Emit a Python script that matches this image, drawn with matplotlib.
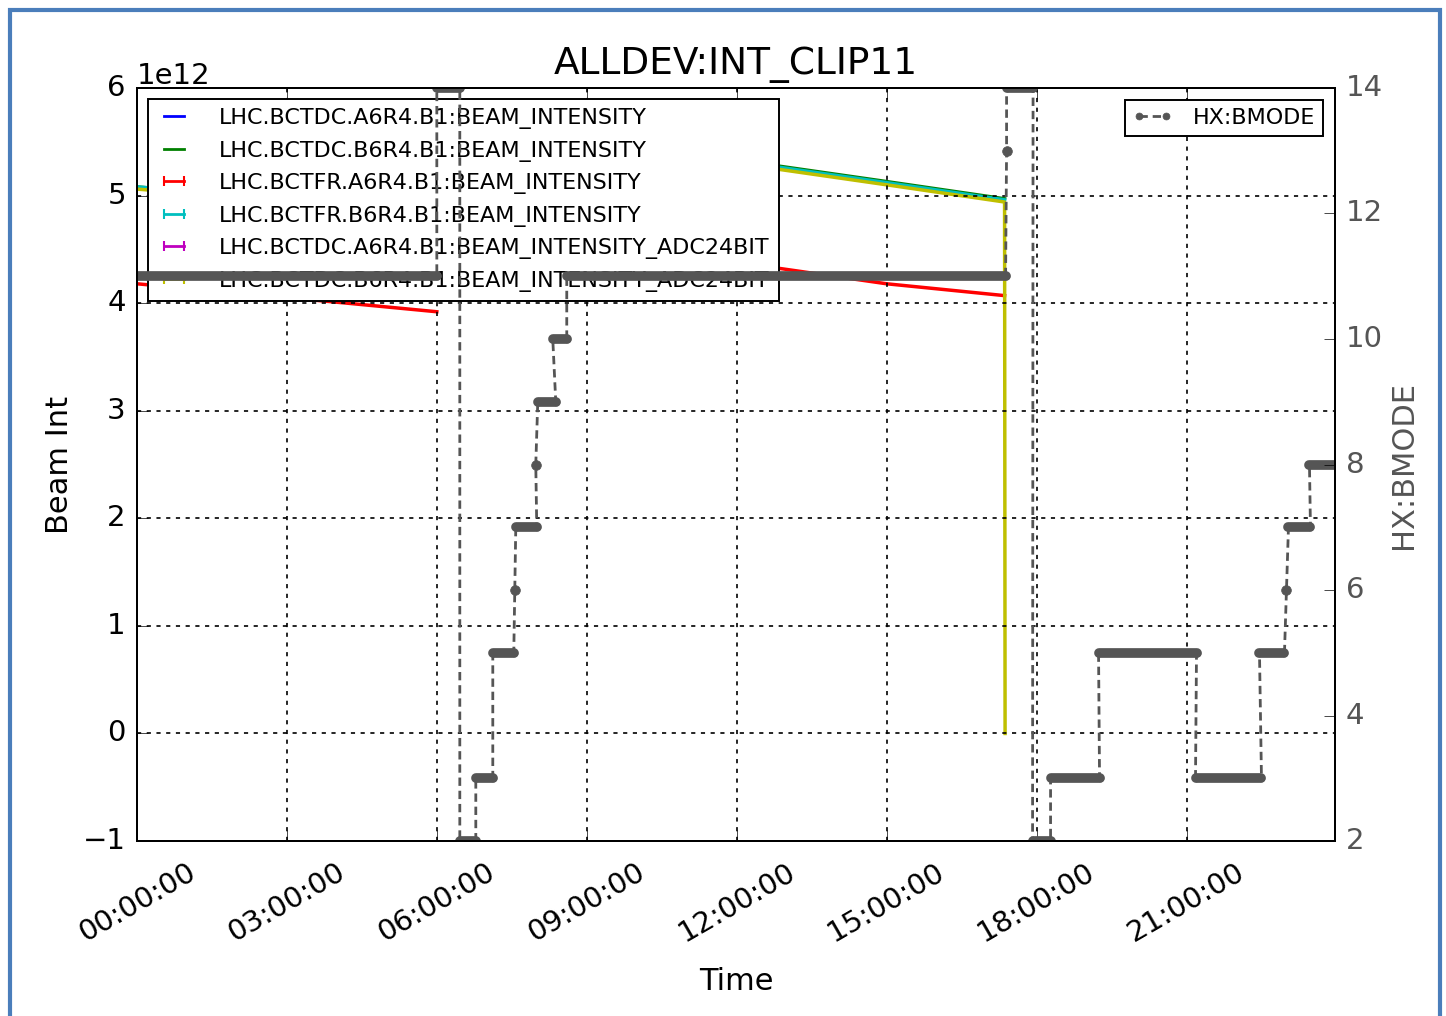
"""Beam intensity and beam mode over one day (ALLDEV:INT_CLIP11)."""

import matplotlib
matplotlib.use('Agg')
import matplotlib.pyplot as plt
import numpy as np
from matplotlib.lines import Line2D
from matplotlib.patches import Rectangle
from matplotlib.ticker import FuncFormatter

# time in hours since 00:00:00, NaN splits the two fills
times = [0.0, 4.2, 6.0, np.nan, 8.6, 12.9, 15.0, 17.36]

# beam intensity, units of 1e12
dc_a6r4 = []
dc_b6r4 = [5.08, 4.93, 4.86, np.nan, 5.56, 5.27, 5.13, 4.97]
fr_a6r4 = [4.18, 4.00, 3.92, np.nan, 4.60, 4.32, 4.18, 4.07]
fr_b6r4 = [5.08, 4.93, 4.86, np.nan, 5.55, 5.26, 5.12, 4.96]
dc_a6r4_adc = []
# ADC24BIT channel drops to zero at the dump
adc_times = [0.0, 4.2, 6.0, np.nan, 8.6, 12.9, 15.0, 17.36, 17.37]
dc_b6r4_adc = [5.06, 4.91, 4.84, np.nan, 5.53, 5.24, 5.10, 4.94, 0.0]

labels = ['LHC.BCTDC.A6R4.B1:BEAM_INTENSITY',
          'LHC.BCTDC.B6R4.B1:BEAM_INTENSITY',
          'LHC.BCTFR.A6R4.B1:BEAM_INTENSITY',
          'LHC.BCTFR.B6R4.B1:BEAM_INTENSITY',
          'LHC.BCTDC.A6R4.B1:BEAM_INTENSITY_ADC24BIT',
          'LHC.BCTDC.B6R4.B1:BEAM_INTENSITY_ADC24BIT']

# beam mode: stretches of constant mode (start h, end h, mode)
mode_start = [0.0, 6.0, 6.46, 6.78, 7.12, 7.56, 7.58, 7.98, 8.02, 8.32, 8.6,
              17.40, 17.40, 17.92, 18.28, 19.24, 21.18, 22.46, 23.0, 23.04, 23.46]
mode_end = [6.0, 6.46, 6.78, 7.12, 7.54, 7.56, 8.0, 7.98, 8.38, 8.6, 17.38,
            17.40, 17.93, 18.28, 19.26, 21.2, 22.5, 22.96, 23.0, 23.48, 24.2]
mode_value = [11, 14, 2, 3, 5, 6, 7, 8, 9, 10, 11,
              13, 14, 2, 3, 5, 3, 5, 6, 7, 8]

hour_ticks = [0, 3, 6, 9, 12, 15, 18, 21]

plt.style.use('classic')
plt.rcParams['figure.facecolor'] = 'white'
plt.rcParams['savefig.facecolor'] = 'white'
plt.rcParams['font.family'] = 'DejaVu Sans'
plt.rcParams['axes.linewidth'] = 1.4

grey = '#555555'

fig = plt.figure(figsize=(14.46, 10.16), dpi=100)
ax1 = fig.add_axes([0.0947, 0.1722, 0.8285, 0.7412])

series = [(times, dc_a6r4, 'b', ''), (times, dc_b6r4, 'g', ''),
          (times, fr_a6r4, 'r', '|'), (times, fr_b6r4, 'c', '|'),
          (times, dc_a6r4_adc, 'm', '|'), (adc_times, dc_b6r4_adc, 'y', '|')]
handles = []
for (t, v, c, mk), lab in zip(series, labels):
    t = t[:len(v)]
    ax1.plot(t, np.array(v, dtype=float) * 1e12, color=c, lw=2.5)
    handles.append(Line2D([], [], color=c, lw=2, marker=mk, ms=7, mew=1.5,
                          label=lab))

ax1.set_xlim(0, 23.97)
ax1.set_ylim(-1e12, 6e12)
ax1.set_xticks(hour_ticks)
ax1.xaxis.set_major_formatter(FuncFormatter(lambda x, p: '%02d:00:00' % int(round(x))))
ax1.tick_params(axis='x', labelrotation=30, labelsize=21, pad=12, length=8)
ax1.tick_params(axis='y', labelsize=21, pad=8, length=8)
ax1.yaxis.get_offset_text().set_fontsize(21)
ax1.grid(True, color='k', linestyle=(0, (3, 4)), linewidth=1.2)
ax1.set_xlabel('Time', fontsize=22, labelpad=14)
ax1.set_ylabel('Beam Int', fontsize=22, labelpad=6)
ax1.set_title('ALLDEV:INT_CLIP11', fontsize=27, y=1.01)

leg1 = ax1.legend(handles=handles, loc='upper left', fontsize=16, numpoints=2,
                  handlelength=1.5, handletextpad=1.3, labelspacing=0.52,
                  borderpad=0.4, borderaxespad=0.5, fancybox=False)
leg1.get_frame().set_linewidth(1.4)

ax2 = ax1.twinx()
for s, e, m in zip(mode_start, mode_end, mode_value):
    if s == e:
        ax2.plot([s], [m], 'o', color=grey, ms=7, mec=grey)
    else:
        ax2.plot([s, e], [m, m], color=grey, lw=7, solid_capstyle='round')
mode_t = [x for pair in zip(mode_start, mode_end) for x in pair]
mode_v = [m for m in mode_value for _ in range(2)]
ax2.plot(mode_t, mode_v, color=grey, ls='--', dashes=(6, 3.5), lw=2,
         marker='o', ms=5, mec=grey, label='HX:BMODE')
ax2.set_xlim(0, 23.97)
ax2.set_ylim(2, 14)
ax2.set_yticks([2, 4, 6, 8, 10, 12, 14])
ax2.tick_params(axis='y', labelsize=21, labelcolor=grey, pad=8, length=8)
ax2.set_ylabel('HX:BMODE', fontsize=22, color=grey, labelpad=4)
leg2 = ax2.legend(loc='upper right', fontsize=16, numpoints=2, handlelength=1.8,
                  handletextpad=0.9, borderpad=0.35, borderaxespad=0.55,
                  fancybox=False)
leg2.get_frame().set_linewidth(1.4)

# blue frame round the picture
fig.add_artist(Rectangle((0.0069, -0.1), 0.9890, 1.0901, fill=False,
                         edgecolor='#4a7ebb', lw=3, transform=fig.transFigure,
                         clip_on=False))

fig.savefig('out.png', dpi=100)
